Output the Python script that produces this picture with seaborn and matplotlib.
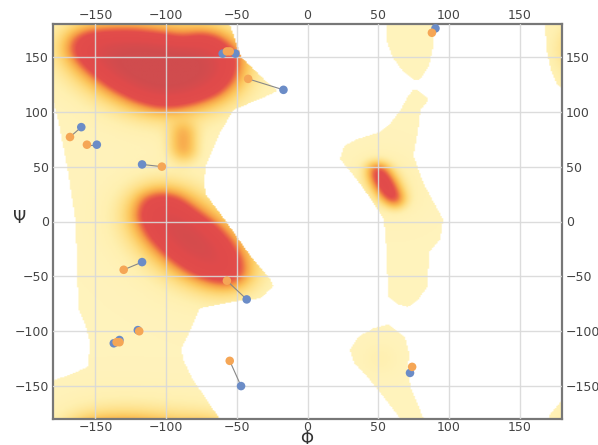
import numpy as np
import pandas as pd
import seaborn as sns
import matplotlib.pyplot as plt
from matplotlib.path import Path
from matplotlib.colors import LinearSegmentedColormap

# outlines of the allowed regions (phi, psi)
region_main = [(-180, 180), (-55, 180), (-47, 150), (-31, 130), (-21, 119), (-33, 112),
               (-52, 102), (-62, 81), (-72, 50), (-73, 35), (-72, 25), (-57, -1),
               (-40, -32), (-26, -53), (-24, -59), (-33, -70), (-52, -73), (-76, -79),
               (-83, -100), (-89, -115), (-88, -126), (-81, -144), (-71, -163), (-62, -180),
               (-180, -180), (-180, -145), (-165, -138), (-155, -132), (-154, -110),
               (-157, -95), (-162, -80), (-163, -40), (-164, 0), (-167, 25), (-170, 50),
               (-176, 90), (-180, 110)]
region_lh = [(76, 122), (86, 111), (80, 102), (78, 81), (75, 60), (82, 35), (92, 11),
             (96, 2), (94, -16), (86, -28), (85, -59), (78, -72), (71, -78), (63, -75),
             (57, -68), (56, -28), (54, 2), (45, 20), (35, 38), (23, 57), (26, 69),
             (35, 75), (50, 81), (59, 90), (66, 102), (71, 114)]
region_lh_low = [(57, -94), (69, -105), (72, -120), (71, -135), (73, -151), (79, -169),
                 (82, -180), (66, -180), (52, -157), (42, -141), (33, -129), (30, -117),
                 (36, -105), (47, -97)]
region_lh_top = [(56, 180), (90, 180), (89, 160), (86, 142), (80, 130), (76, 128),
                 (68, 136), (60, 150), (56, 165)]
region_edge_top = [(168, 180), (180, 180), (180, 122), (177, 123), (172, 139), (169, 157)]
region_edge_bottom = [(170, -180), (180, -180), (180, -164), (178, -166), (172, -175)]

# high density cores
core_beta = [(-168, 168), (-158, 174), (-123, 174), (-99, 170), (-88, 165), (-78, 172),
             (-64, 171), (-51, 158), (-48, 146), (-52, 129), (-62, 116), (-80, 108),
             (-95, 104), (-107, 104), (-123, 111), (-142, 124), (-159, 141), (-169, 155)]
core_alpha = [(-121, 5), (-118, 23), (-104, 28), (-90, 23), (-80, 10), (-66, -2), (-54, -18),
              (-46, -34), (-43, -48), (-49, -58), (-60, -59), (-73, -53), (-88, -43),
              (-102, -28), (-114, -12)]
core_lh = [(44, 52), (53, 52), (60, 38), (67, 20), (63, 12), (55, 20), (46, 38)]
patch_bridge = [(-94, 88), (-82, 88), (-80, 60), (-88, 54), (-95, 62)]
patch_lh_low = [(45, -115), (58, -115), (58, -135), (45, -135)]

# residue angles: orange and blue points, paired by index
phi_orange = [-57, -55, -42, -168, -156, -103, 88, -130, -57, -119, -135, -133, -55, 74]
psi_orange = [155, 155, 130, 77, 70, 50, 172, -44, -54, -100, -110, -110, -127, -132.5]
phi_blue = [-60, -51, -17, -160, -149, -117, 90.5, -117, -43, -120, -137, -133, -47, 72.5]
psi_blue = [153, 153, 120, 86, 70, 52, 176, -37, -71, -99, -111, -108, -150, -138]

color_stops = [(0.00, '#FFF6C8'), (0.10, '#FFF0B0'), (0.20, '#FEDE84'), (0.30, '#FCC65C'),
               (0.42, '#F69E46'), (0.52, '#EC6A45'), (0.60, '#E34D4A'), (0.85, '#E04A4B'),
               (1.00, '#D04C4E')]

centers = np.arange(-179.5, 180, 1.0)
P, S = np.meshgrid(centers, centers)
pts = np.c_[P.ravel(), S.ravel()]


def mask(poly):
    return Path(poly).contains_points(pts).reshape(P.shape).astype(float)


def blur(m, sigma):
    n = m.shape[0]
    d = np.minimum(np.arange(n), n - np.arange(n))
    g = np.exp(-d ** 2 / (2 * sigma ** 2))
    g /= g.sum()
    G = np.fft.fft(g)
    return np.fft.ifft2(np.fft.fft2(m) * G[:, None] * G[None, :]).real


allowed = sum(mask(p) for p in [region_main, region_lh, region_lh_low, region_lh_top,
                                region_edge_top, region_edge_bottom])
allowed = blur(np.clip(allowed, 0, 1), 1.2) > 0.5

core = mask(core_beta) + mask(core_alpha)
lh = mask(core_lh)
field = (0.05 + 0.1 * blur(core, 4) + 0.5 * blur(core, 10) + 0.5 * blur(core, 22)
         + 0.7 * blur(lh, 5) + 0.4 * blur(lh, 14)
         + 0.4 * blur(mask(patch_bridge), 6) + 0.1 * blur(mask(patch_lh_low), 8))
field = np.clip(field, 0, 1)

cmap = LinearSegmentedColormap.from_list('rama', color_stops)
rgba = cmap(field)
rgba[~allowed] = (1, 1, 1, 1)

sns.set_theme(style='white')
plt.rcParams['font.family'] = ['DejaVu Sans']

fig = plt.figure(figsize=(5.98, 4.45), dpi=100)
ax = fig.add_axes([53 / 598, 26 / 445, 509 / 598, 395 / 445])
ax.imshow(rgba, extent=(-180, 180, -180, 180), origin='lower',
          interpolation='bilinear', aspect='auto', zorder=0)

for po, so, pb, sb in zip(phi_orange, psi_orange, phi_blue, psi_blue):
    ax.plot([po, pb], [so, sb], color='#888888', lw=0.8, zorder=3)

df = pd.DataFrame({
    'phi': phi_blue + phi_orange,
    'psi': psi_blue + psi_orange,
    'kind': ['blue'] * len(phi_blue) + ['orange'] * len(phi_orange),
})
sns.scatterplot(data=df, x='phi', y='psi', hue='kind',
                palette={'blue': '#6B8CC7', 'orange': '#F5A656'},
                s=38, linewidth=0, legend=False, ax=ax, zorder=4)

ax.set_xlim(-180, 180)
ax.set_ylim(-180, 180)
ax.set_xticks(range(-150, 151, 50))
ax.set_yticks(range(-150, 151, 50))
ax.set_xlabel('')
ax.set_ylabel('')
ax.set_axisbelow(False)
ax.grid(True, color='#d9d9d9', lw=1, alpha=0.9)
ax.tick_params(top=True, labeltop=True, right=True, labelright=True, length=0,
               labelsize=9, labelcolor='#444444')
ax.tick_params(axis='x', pad=1.5)
ax.tick_params(axis='y', pad=3)
for sp in ax.spines.values():
    sp.set_color('#777777')
    sp.set_linewidth(1.6)

fig.text(20 / 598, 1 - 218 / 445, 'Ψ', fontsize=12, color='#333333', ha='center', va='center')
fig.text(307 / 598, 1 - 439 / 445, 'Φ', fontsize=12, color='#333333', ha='center', va='center')

fig.savefig('out.png', dpi=100)
